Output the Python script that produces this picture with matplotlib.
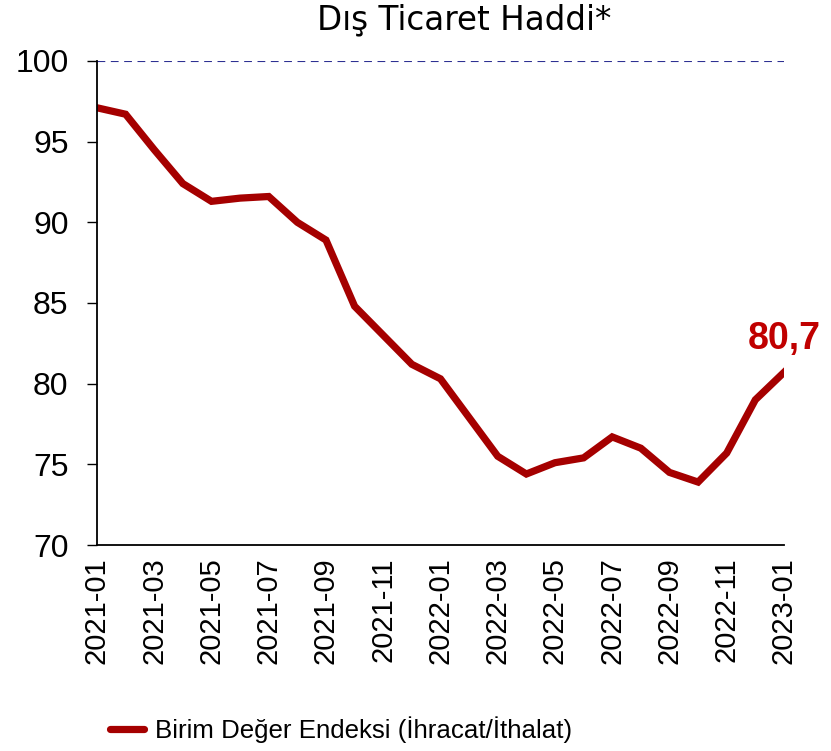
import matplotlib
matplotlib.use("Agg")
import matplotlib.pyplot as plt

# monthly terms of trade index
months = ['2021-01', '2021-02', '2021-03', '2021-04', '2021-05', '2021-06',
          '2021-07', '2021-08', '2021-09', '2021-10', '2021-11', '2021-12',
          '2022-01', '2022-02', '2022-03', '2022-04', '2022-05', '2022-06',
          '2022-07', '2022-08', '2022-09', '2022-10', '2022-11', '2022-12',
          '2023-01']
values = [97.1, 96.7, 94.5, 92.4, 91.3, 91.5, 91.6, 90.0, 88.9, 84.8, 83.0, 81.2,
          80.3, 77.9, 75.5, 74.4, 75.1, 75.4, 76.7, 76.0, 74.5, 73.9, 75.7, 79.0,
          80.7]
yticks = [70, 75, 80, 85, 90, 95, 100]
series_name = 'Birim Değer Endeksi (İhracat/İthalat)'
title = 'Dış Ticaret Haddi*'

line_color = '#a50000'

fig = plt.figure(figsize=(8.31, 7.51), dpi=100)
ax = fig.add_axes([0.1167, 0.2743, 0.8267, 0.6445])

x = list(range(len(months)))
ax.plot(x, values, color=line_color, lw=5.2, solid_joinstyle='miter',
        label=series_name)
ax.axhline(100, color='#2e3192', lw=0.8, ls=(0, (7, 5)))

ax.set_xlim(0, len(months) - 1)
ax.set_ylim(70, 100)
ax.set_yticks(yticks)
ax.set_xticks(x[::2])
ax.set_xticklabels(months[::2], rotation=90, fontsize=21,
                   family='Liberation Sans')
for lab in ax.get_yticklabels():
    lab.set_family('Liberation Sans')
    lab.set_fontsize(23)
ax.tick_params(axis='y', length=7.5, width=1, pad=13)
ax.tick_params(axis='x', length=0, pad=9)

for s in ['top', 'right']:
    ax.spines[s].set_visible(False)
for s in ['left', 'bottom']:
    ax.spines[s].set_linewidth(1.3)

ax.annotate('80,7', (x[-1], values[-1]), xytext=(0, 11), textcoords='offset points',
            ha='center', va='bottom', fontsize=27, fontweight='bold',
            color='#c00000', family='Liberation Sans', annotation_clip=False)

fig.text(0.558, 0.973, title, ha='center', va='center', fontsize=23.5,
         family='DejaVu Sans')

leg = fig.legend(loc='center left', bbox_to_anchor=(0.12, 0.029), frameon=False,
                 prop={'family': 'Liberation Sans', 'size': 18.6},
                 handlelength=1.3, handletextpad=0.45, borderaxespad=0)
for h in leg.get_lines():
    h.set_solid_capstyle('round')

fig.savefig('out.png', dpi=100)
